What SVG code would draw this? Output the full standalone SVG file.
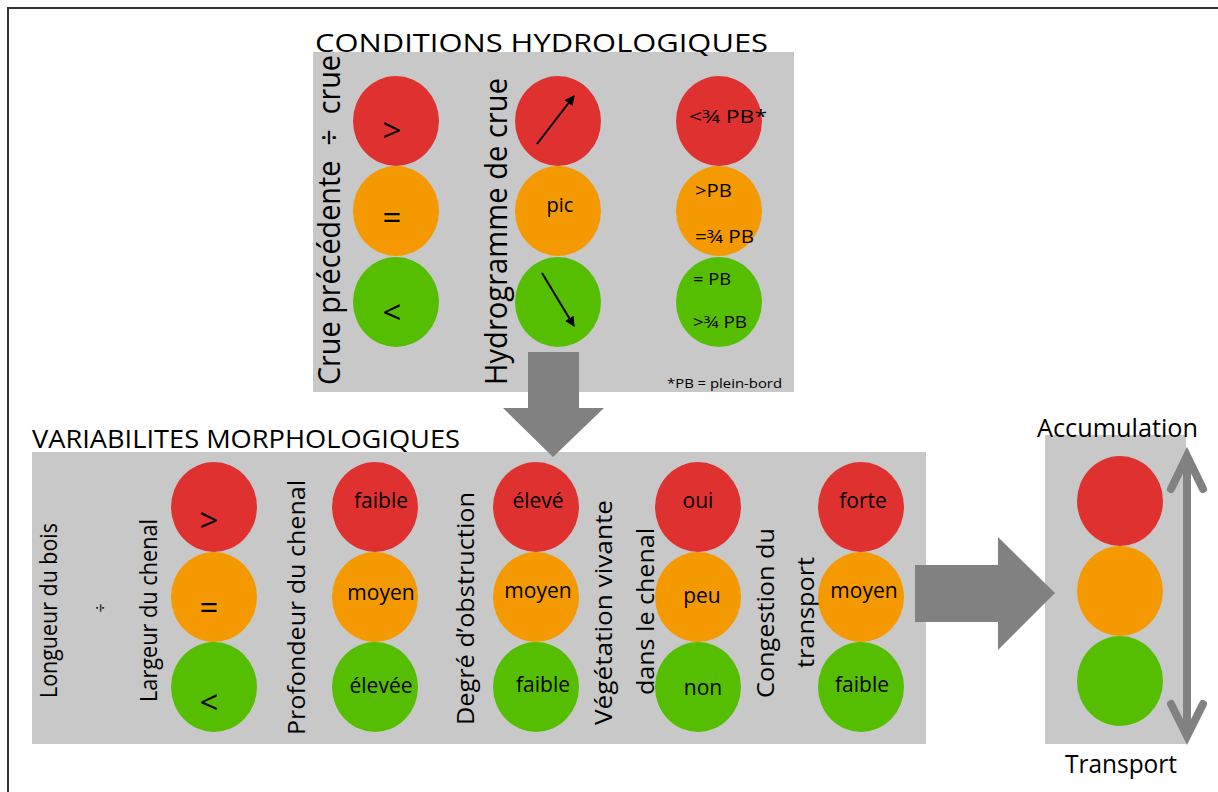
<svg xmlns="http://www.w3.org/2000/svg" width="1218" height="792" viewBox="0 0 1218 792">
<style>
text{font-family:"Open Sans","Noto Sans","DejaVu Sans",sans-serif;fill:#000}
.panel{fill:#c8c8c8}
.r{fill:#e03131}
.o{fill:#f49a00}
.g{fill:#55be00}
.big{fill:#818181}
.title{font-size:26px}
.vlab{font-size:31px}
.blab{font-size:23px}
.cl{font-size:21px;text-anchor:middle}
.sym{font-size:33px;text-anchor:middle}
.pb{font-size:19px}
</style>
<defs>
<marker id="ah" viewBox="0 0 10 10" refX="9" refY="5" markerWidth="5" markerHeight="5" orient="auto" markerUnits="strokeWidth">
<path d="M0,0 L10,5 L0,10 z" fill="#000"/>
</marker>
</defs>
<rect x="8" y="8" width="1222" height="802" fill="#fff" stroke="#333" stroke-width="2"/>

<g id="conditions-hydrologiques">
<rect class="panel" x="313" y="52" width="481" height="340"/>
<text class="title" x="315" y="52" textLength="453" lengthAdjust="spacingAndGlyphs">CONDITIONS HYDROLOGIQUES</text>
<text class="vlab" transform="translate(340,385) rotate(-90)" textLength="330" lengthAdjust="spacingAndGlyphs">Crue précédente &#160;÷ &#160;crue</text>
<text class="vlab" transform="translate(507,385) rotate(-90)" textLength="307" lengthAdjust="spacingAndGlyphs">Hydrogramme de crue</text>
<g id="crue-precedente">
<ellipse class="r" cx="396" cy="121" rx="43" ry="45"/>
<ellipse class="o" cx="396" cy="211" rx="43" ry="45"/>
<ellipse class="g" cx="396" cy="302" rx="43" ry="45"/>
<text class="sym" x="392" y="142">&gt;</text>
<text class="sym" x="392" y="229">=</text>
<text class="sym" x="392" y="324">&lt;</text>
</g>
<g id="hydrogramme">
<ellipse class="r" cx="558" cy="121" rx="43" ry="45"/>
<ellipse class="o" cx="558" cy="211" rx="43" ry="45"/>
<ellipse class="g" cx="558" cy="302" rx="43" ry="45"/>
<line x1="537" y1="144" x2="574" y2="96" stroke="#000" stroke-width="2" marker-end="url(#ah)"/>
<line x1="542" y1="273" x2="574" y2="326" stroke="#000" stroke-width="2" marker-end="url(#ah)"/>
<text class="cl" x="560" y="212" style="font-size:20px">pic</text>
</g>
<g id="plein-bord">
<ellipse class="r" cx="719" cy="121" rx="43" ry="45"/>
<ellipse class="o" cx="719" cy="211" rx="43" ry="45"/>
<ellipse class="g" cx="719" cy="302" rx="43" ry="45"/>
<text class="pb" x="689" y="123" textLength="78" lengthAdjust="spacingAndGlyphs">&lt;¾ PB*</text>
<text class="pb" x="695" y="197" textLength="37" lengthAdjust="spacingAndGlyphs">&gt;PB</text>
<text class="pb" x="695" y="243" textLength="59" lengthAdjust="spacingAndGlyphs">=¾ PB</text>
<text x="693" y="285" style="font-size:17px" textLength="38" lengthAdjust="spacingAndGlyphs">= PB</text>
<text x="693" y="328" style="font-size:17px" textLength="54" lengthAdjust="spacingAndGlyphs">&gt;¾ PB</text>
<text x="667" y="388" style="font-size:13px" textLength="115" lengthAdjust="spacingAndGlyphs">*PB = plein-bord</text>
</g>
</g>

<g id="variabilites-morphologiques">
<rect class="panel" x="32" y="452" width="894" height="292"/>
<text class="title" x="32" y="448" textLength="428" lengthAdjust="spacingAndGlyphs">VARIABILITES MORPHOLOGIQUES</text>
<text class="blab" transform="translate(57,698) rotate(-90)" textLength="175" lengthAdjust="spacingAndGlyphs">Longueur du bois</text>
<text transform="translate(106,608) rotate(-90)" style="font-size:16px;text-anchor:middle">÷</text>
<text class="blab" transform="translate(157,702) rotate(-90)" textLength="183" lengthAdjust="spacingAndGlyphs">Largeur du chenal</text>
<text class="blab" transform="translate(305,735) rotate(-90)" textLength="255" lengthAdjust="spacingAndGlyphs">Profondeur du chenal</text>
<text class="blab" transform="translate(474,725) rotate(-90)" textLength="233" lengthAdjust="spacingAndGlyphs">Degré d’obstruction</text>
<text class="blab" transform="translate(612,725) rotate(-90)" textLength="225" lengthAdjust="spacingAndGlyphs">Végétation vivante</text>
<text class="blab" transform="translate(654,695) rotate(-90)" textLength="167" lengthAdjust="spacingAndGlyphs">dans le chenal</text>
<text class="blab" transform="translate(774,698) rotate(-90)" textLength="170" lengthAdjust="spacingAndGlyphs">Congestion du</text>
<text class="blab" transform="translate(814,668) rotate(-90)" textLength="111" lengthAdjust="spacingAndGlyphs">transport</text>
<g id="rapport-longueur">
<ellipse class="r" cx="214" cy="507" rx="43" ry="45"/>
<ellipse class="o" cx="214" cy="597" rx="43" ry="45"/>
<ellipse class="g" cx="214" cy="687" rx="43" ry="45"/>
<text class="sym" x="209" y="532">&gt;</text>
<text class="sym" x="209" y="619">=</text>
<text class="sym" x="209" y="714">&lt;</text>
</g>
<g id="profondeur">
<ellipse class="r" cx="375" cy="507" rx="43" ry="45"/>
<ellipse class="o" cx="375" cy="597" rx="43" ry="45"/>
<ellipse class="g" cx="375" cy="687" rx="43" ry="45"/>
<text class="cl" x="381" y="508">faible</text>
<text class="cl" x="381" y="600">moyen</text>
<text class="cl" x="381" y="693">élevée</text>
</g>
<g id="obstruction">
<ellipse class="r" cx="536" cy="507" rx="43" ry="45"/>
<ellipse class="o" cx="536" cy="597" rx="43" ry="45"/>
<ellipse class="g" cx="536" cy="687" rx="43" ry="45"/>
<text class="cl" x="538" y="508">élevé</text>
<text class="cl" x="538" y="598">moyen</text>
<text class="cl" x="543" y="692">faible</text>
</g>
<g id="vegetation">
<ellipse class="r" cx="698" cy="507" rx="43" ry="45"/>
<ellipse class="o" cx="698" cy="597" rx="43" ry="45"/>
<ellipse class="g" cx="698" cy="687" rx="43" ry="45"/>
<text class="cl" x="698" y="508">oui</text>
<text class="cl" x="702" y="603">peu</text>
<text class="cl" x="703" y="695">non</text>
</g>
<g id="congestion">
<ellipse class="r" cx="861" cy="507" rx="43" ry="45"/>
<ellipse class="o" cx="861" cy="597" rx="43" ry="45"/>
<ellipse class="g" cx="861" cy="687" rx="43" ry="45"/>
<text class="cl" x="863" y="508">forte</text>
<text class="cl" x="864" y="598">moyen</text>
<text class="cl" x="862" y="692">faible</text>
</g>
</g>

<g id="resultat">
<rect class="panel" x="1045" y="435" width="141" height="309"/>
<ellipse class="r" cx="1120" cy="501" rx="43" ry="45"/>
<ellipse class="o" cx="1120" cy="591" rx="43" ry="45"/>
<ellipse class="g" cx="1120" cy="681" rx="43" ry="45"/>
<text class="title" x="1037" y="437" textLength="161" lengthAdjust="spacingAndGlyphs">Accumulation</text>
<text class="title" x="1065" y="773" textLength="112" lengthAdjust="spacingAndGlyphs">Transport</text>
</g>

<g id="connectors">
<polygon class="big" points="528,352 579,352 579,408 604,408 553,457 503,408 528,408"/>
<polygon class="big" points="915,565 998,565 998,537 1055,593 998,650 998,622 915,622"/>
<g fill="none" stroke="#818181" stroke-width="8" stroke-linecap="round">
<line x1="1187" y1="460" x2="1187" y2="732"/>
<polyline points="1171,489 1187,456 1203,489"/>
<polyline points="1171,704 1187,736 1203,704"/>
</g>
</g>
</svg>
